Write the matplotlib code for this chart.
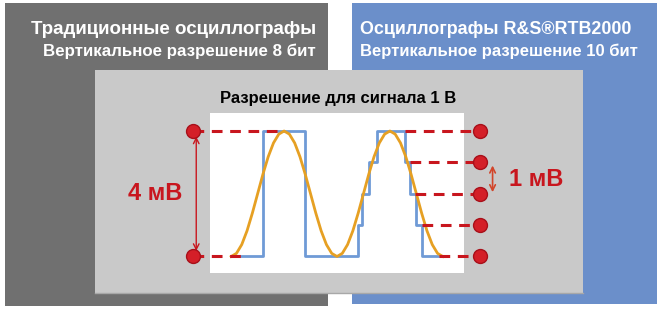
import matplotlib.pyplot as plt
from matplotlib.patches import Rectangle

plt.rcParams['font.family'] = ['Liberation Sans', 'DejaVu Sans']

# texts
left_title = "Традиционные осциллографы"
left_sub = "Вертикальное разрешение 8 бит"
right_title = "Осциллографы R&S®RTB2000"
right_sub = "Вертикальное разрешение 10 бит"
plot_title = "Разрешение для сигнала 1 В"

# signal: time in periods, voltage in mV
sig_t = [i / 20 for i in range(41)]
sig_v = [0.0, 0.10, 0.38, 0.82, 1.38, 2.0, 2.62, 3.18, 3.62, 3.90, 4.0,
         3.90, 3.62, 3.18, 2.62, 2.0, 1.38, 0.82, 0.38, 0.10, 0.0,
         0.10, 0.38, 0.82, 1.38, 2.0, 2.62, 3.18, 3.62, 3.90, 4.0,
         3.90, 3.62, 3.18, 2.62, 2.0, 1.38, 0.82, 0.38, 0.10, 0.0]

# quantized signal (8 bit for the first period, 10 bit for the second)
step_t = [0.0, 0.30, 0.70, 1.20, 1.24, 1.30, 1.38, 1.64, 1.69, 1.75, 1.80, 2.00]
step_v = [0, 4, 0, 1, 2, 3, 4, 3, 2, 1, 0, 0]

# quantization levels
levels_8bit = [4, 0]
levels_8bit_end = [0.48, 0.15]
levels_10bit = [4, 3, 2, 1, 0]
levels_10bit_start = [1.64, 1.69, 1.74, 1.80, 1.96]

RED = '#c8161e'
fig = plt.figure(figsize=(6.6, 3.1), dpi=100)

# background panels in pixel coordinates
bg = fig.add_axes([0, 0, 1, 1])
bg.set_xlim(0, 660)
bg.set_ylim(310, 0)
bg.axis('off')
bg.add_patch(Rectangle((5, 3), 323, 303, color='#707070', lw=0))
bg.add_patch(Rectangle((352, 3), 305, 301, color='#6b8fca', lw=0))
bg.add_patch(Rectangle((95, 70), 488, 223, color='#c9c9c9', lw=0))
bg.plot([95, 583], [293, 293], color='#a8a8a8', lw=1)

bg.text(316, 29, left_title, color='white', fontsize=13.5, fontweight='bold',
        ha='right', va='center')
bg.text(316, 51, left_sub, color='white', fontsize=12.2, fontweight='bold',
        ha='right', va='center')
bg.text(360, 29, right_title, color='white', fontsize=12.9, fontweight='bold',
        ha='left', va='center')
bg.text(360, 51, right_sub, color='white', fontsize=12.0, fontweight='bold',
        ha='left', va='center')
bg.text(338, 98, plot_title, color='black', fontsize=12, fontweight='bold',
        ha='center', va='center')

# white signal area
ax = fig.add_axes([210 / 660, (310 - 273) / 310, 254 / 660, 160 / 310])
ax.set_xlim(-0.20, 2.20)
ax.set_ylim(-0.526, 4.574)
ax.set_facecolor('white')
for s in ax.spines.values():
    s.set_visible(False)
ax.set_xticks([])
ax.set_yticks([])

ax.plot(step_t, step_v, drawstyle='steps-post', color='#6f9ad6', lw=2, zorder=2)
ax.plot(sig_t, sig_v, color='#e6a023', lw=2, zorder=3, solid_joinstyle='round')

dash = dict(color=RED, lw=2.2, ls=(0, (3.5, 2.5)), zorder=4, clip_on=False)
for v, end in zip(levels_8bit, levels_8bit_end):
    ax.plot([-0.358, end], [v, v], **dash)
    ax.plot(-0.358, v, 'o', ms=10, color='#d41f28', mec='#a8101a', mew=1,
            zorder=5, clip_on=False)
for v, start in zip(levels_10bit, levels_10bit_start):
    ax.plot([start, 2.349], [v, v], **dash)
    ax.plot(2.349, v, 'o', ms=10, color='#d41f28', mec='#a8101a', mew=1,
            zorder=5, clip_on=False)

ax.annotate('', xy=(-0.33, 4.0), xytext=(-0.33, 0.0),
            arrowprops=dict(arrowstyle='<->', color=RED, lw=1,
                            shrinkA=4, shrinkB=4), annotation_clip=False)
ax.text(-0.72, 2.0, '4 мВ', color=RED, fontsize=17, fontweight='bold',
        ha='center', va='center', clip_on=False)

ax.annotate('', xy=(2.47, 2.9), xytext=(2.47, 2.05),
            arrowprops=dict(arrowstyle='<->', color='#d2452a', lw=1.2,
                            shrinkA=0, shrinkB=0), annotation_clip=False)
ax.text(2.88, 2.44, '1 мВ', color=RED, fontsize=17, fontweight='bold',
        ha='center', va='center', clip_on=False)

fig.savefig('out.png', dpi=100, facecolor='white')
